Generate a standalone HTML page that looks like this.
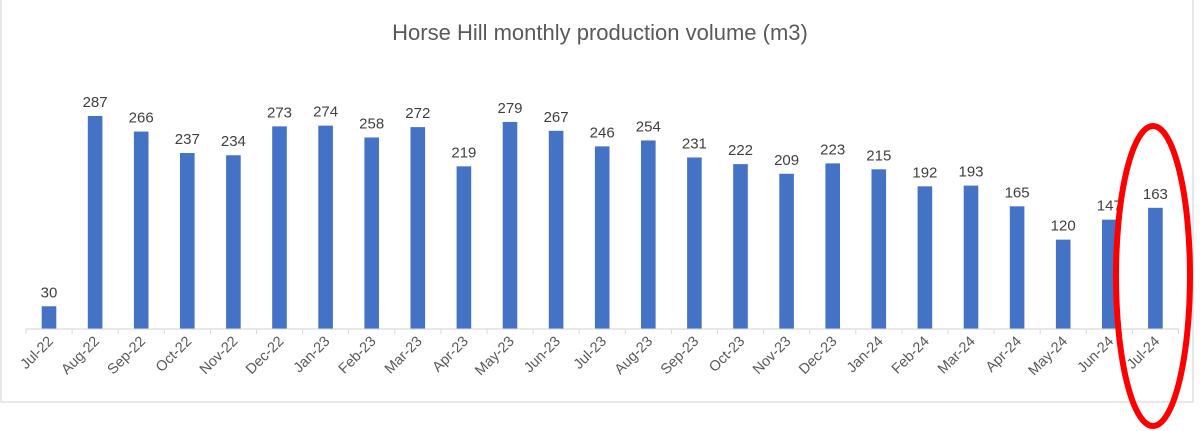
<!DOCTYPE html>
<html><head><meta charset="utf-8"><style>
html,body{margin:0;padding:0;background:#fff;}
svg{display:block;font-family:"Liberation Sans",sans-serif;}
</style></head><body>
<svg id="c" width="1200" height="431" xmlns="http://www.w3.org/2000/svg">
<rect x="1" y="-2" width="1192" height="404" fill="#fff" stroke="#d9d9d9" stroke-width="1.2"/>
<text x="600" y="40" text-anchor="middle" font-size="22" fill="#595959">Horse Hill monthly production volume (m3)</text>
<line x1="26" y1="329" x2="1179" y2="329" stroke="#d9d9d9" stroke-width="1.2"/>
<g id="g"></g>
<ellipse cx="1153" cy="276" rx="37" ry="150" fill="none" stroke="#ff0000" stroke-width="6"/>
</svg>
<script>
var v=[30,287,266,237,234,273,274,258,272,219,279,267,246,254,231,222,209,223,215,192,193,165,120,147,163];
var l=["Jul-22","Aug-22","Sep-22","Oct-22","Nov-22","Dec-22","Jan-23","Feb-23","Mar-23","Apr-23","May-23","Jun-23","Jul-23","Aug-23","Sep-23","Oct-23","Nov-23","Dec-23","Jan-24","Feb-24","Mar-24","Apr-24","May-24","Jun-24","Jul-24"];
var s="",b=328.5,k=0.7404,sp=46.1;
for(var i=0;i<=25;i++){var tx=26+sp*i;s+='<line x1="'+tx+'" y1="329" x2="'+tx+'" y2="334" stroke="#d9d9d9" stroke-width="1"/>';}
for(var i=0;i<25;i++){var cx=49+sp*i,h=v[i]*k,t=b-h;
s+='<rect x="'+(cx-7.3)+'" y="'+t+'" width="14.6" height="'+h+'" fill="#4472c4"/>';
s+='<text x="'+cx+'" y="'+(t-9)+'" text-anchor="middle" font-size="15" fill="#404040">'+v[i]+'</text>';
s+='<text transform="translate('+(cx+5)+',342) rotate(-45)" text-anchor="end" font-size="14.5" fill="#595959">'+l[i]+'</text>';}
document.getElementById("g").innerHTML=s;
</script>
</body></html>
